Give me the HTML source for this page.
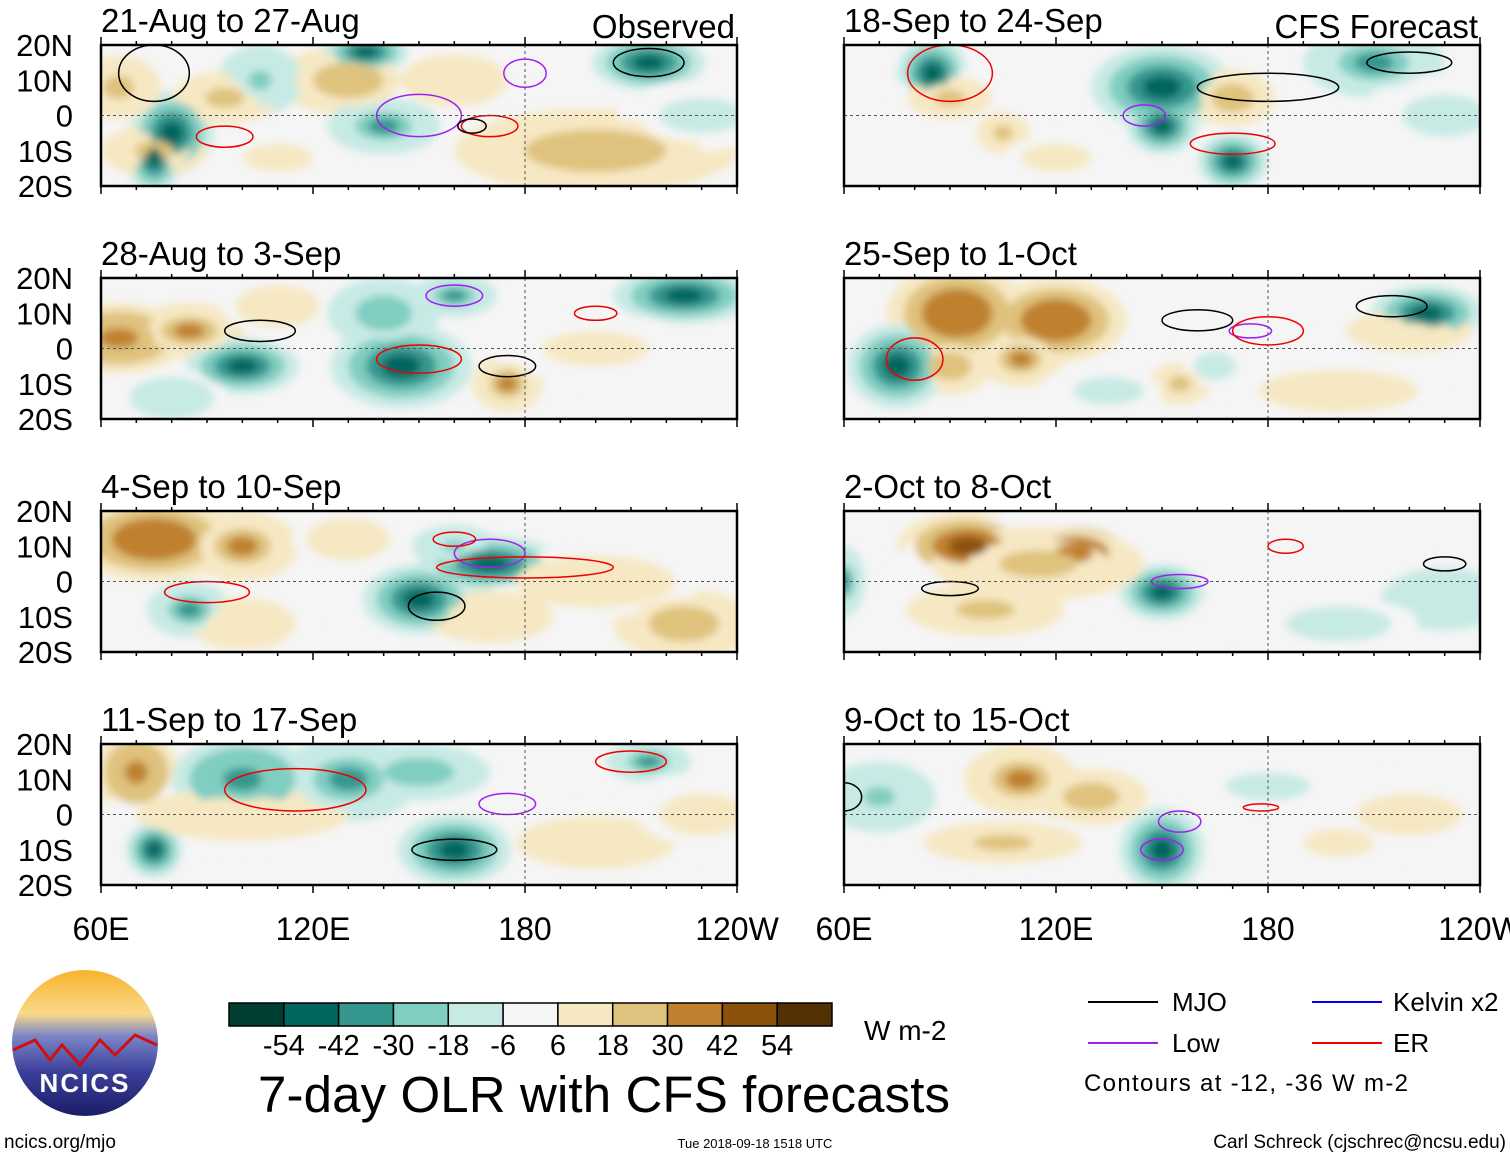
<!DOCTYPE html>
<html><head><meta charset="utf-8">
<style>
body{margin:0;background:#fff;width:1510px;height:1158px;overflow:hidden;font-family:"Liberation Sans",sans-serif}
svg text{font-family:"Liberation Sans",sans-serif}
</style></head>
<body>
<svg id="chart" width="1510" height="1158" viewBox="0 0 1510 1158" xmlns="http://www.w3.org/2000/svg">
<defs>
<filter id="blur" x="-50%" y="-50%" width="200%" height="200%"><feGaussianBlur stdDeviation="4"/></filter>
<linearGradient id="sky" x1="0" y1="0" x2="0" y2="1">
<stop offset="0" stop-color="#f7b32b"/><stop offset="0.3" stop-color="#f9d98a"/><stop offset="0.45" stop-color="#7c86c8"/><stop offset="0.7" stop-color="#3b3f9a"/><stop offset="1" stop-color="#1a1d66"/></linearGradient>
</defs>
<g id="panels"></g>
<g id="colorbar"></g>
<text x="864" y="1040" font-size="28">W m-2</text>
<text x="258" y="1112" font-size="51" textLength="692">7-day OLR with CFS forecasts</text>
<g font-size="26">
<line x1="1088" y1="1002" x2="1158" y2="1002" stroke="#000" stroke-width="2"/><text x="1172" y="1011">MJO</text>
<line x1="1312" y1="1002" x2="1382" y2="1002" stroke="#0000ee" stroke-width="2"/><text x="1393" y="1011">Kelvin x2</text>
<line x1="1088" y1="1043" x2="1158" y2="1043" stroke="#a020f0" stroke-width="2"/><text x="1172" y="1052">Low</text>
<line x1="1312" y1="1043" x2="1382" y2="1043" stroke="#ee0000" stroke-width="2"/><text x="1393" y="1052">ER</text>
<text x="1084" y="1091" font-size="24" textLength="324">Contours at -12, -36 W m-2</text>
</g>
<g>
<circle cx="85" cy="1043" r="73" fill="url(#sky)"/>
<path d="M13,1050 L35,1040 L50,1060 L62,1045 L80,1065 L100,1040 L115,1055 L135,1035 L157,1045" fill="none" stroke="#d01010" stroke-width="3"/>
<text x="85" y="1092" font-size="26" font-weight="bold" fill="#fff" text-anchor="middle" letter-spacing="2">NCICS</text>
</g>
<text x="4" y="1148" font-size="19">ncics.org/mjo</text>
<text x="755" y="1148" font-size="13" text-anchor="middle">Tue 2018-09-18 1518 UTC</text>
<text x="1506" y="1148" font-size="19" text-anchor="end">Carl Schreck (cjschrec@ncsu.edu)</text>
</svg>
<script>
const NS="http://www.w3.org/2000/svg";
const titles=["21-Aug to 27-Aug","18-Sep to 24-Sep","28-Aug to 3-Sep","25-Sep to 1-Oct","4-Sep to 10-Sep","2-Oct to 8-Oct","11-Sep to 17-Sep","9-Oct to 15-Oct"];
const levels=[-54,-42,-30,-18,-6,6,18,30,42,54];
const colors=["#003d33","#01665e","#35978f","#80cdc1","#c7eae5","#f5f5f5","#f6e8c3","#dfc27d","#bf812d","#8c510a","#543005"];
const latTicks=["20N","10N","0","10S","20S"];
const lonTicks=["60E","120E","180","120W"];
// blobs: [panel, lon, lat, rxDeg, ryDeg, value]
const blobLon=[[65,95,130,75,200,160,80,75,135,215,140,105,230,110],[85,150,150,170,210,90,105,170,230,120],[65,85,175,110,100,145,140,225,160,200,80],[92,120,90,110,155,220,75,225,165,200,135],[75,100,225,170,100,150,170,85,160,200,130],[95,125,115,100,230,150,60,200],[70,100,200,100,130,160,215,75,150,230],[110,130,105,200,150,70,220,180]];
const blobLat=[[8,5,10,-10,-10,10,-5,-12,18,15,-3,10,0,-12],[12,8,-3,-13,15,5,-5,5,0,-12],[3,5,-10,12,-5,-5,10,15,15,0,-14],[10,8,-5,-3,-10,5,-5,10,-5,-12,-12],[12,10,-12,-10,-12,-5,5,-8,10,0,12],[10,8,5,-8,-5,-3,0,-12],[12,0,-8,10,10,-10,15,-10,12,0],[10,5,-8,-8,-10,5,0,8]];
const blobRx=[[8,10,10,10,20,10,6,4,6,8,8,6,12,10],[5,10,5,5,10,8,5,6,12,10],[10,8,5,8,8,10,8,10,6,15,8],[10,10,6,6,6,12,7,8,6,15,10],[12,8,10,12,10,8,10,6,6,15,8],[10,10,20,15,12,6,3,15],[6,20,15,10,10,8,6,4,10,12],[8,8,15,10,6,8,15,12]];
const blobRy=[[6,5,5,5,6,5,6,5,3,4,4,5,5,4],[5,6,4,4,5,4,4,4,6,4],[5,4,4,4,4,6,5,4,3,5,4],[7,6,4,4,4,4,6,4,4,4,4],[6,5,5,5,5,5,4,4,3,5,4],[5,5,7,5,6,4,5,5],[6,5,5,6,6,5,3,4,4,6],[5,4,4,4,6,5,6,4]];
const blobVal=[[20,20,25,20,25,15,-40,-50,-50,-50,-30,-20,-10,10],[-40,-50,-40,-40,-30,20,20,25,-10,10],[35,30,30,15,-40,-40,-25,-45,-30,10,-15],[40,40,25,30,20,15,-40,-40,-10,12,-10],[40,30,25,15,15,-40,-40,-30,-20,12,15],[45,40,20,20,-15,-40,-30,-10],[35,15,15,-35,-30,-40,-30,-40,-25,10],[30,25,20,10,-40,-20,10,-10]];
// contours: lon, lat, rx, ry, color
const conLon=[[170,180,75,95,150,215,165],[90,180,170,145,220],[105,150,175,160,200],[160,175,215,80,180],[155,170,90,180,160],[90,185,155,230],[160,115,210,175],[155,150,178,60]];
const conLat=[[-3,12,12,-6,0,15,-3],[12,8,-8,0,15],[5,-3,-5,15,10],[8,5,12,-3,5],[-7,8,-3,4,12],[-2,10,0,5],[-10,7,15,3],[-2,-10,2,5]];
const conRx=[[8,6,10,8,12,10,4],[12,20,12,6,12],[10,12,8,8,6],[10,6,10,8,10],[8,10,12,25,6],[8,5,8,6],[12,20,10,8],[6,6,5,5]];
const conRy=[[3,4,8,3,6,4,2],[8,4,3,3,3],[3,4,3,3,2],[3,2,3,6,4],[4,4,3,3,2],[2,2,2,2],[3,6,3,3],[3,3,1,4]];
const conCol=[["#ee0000","#a020f0","#000","#ee0000","#a020f0","#000","#000"],["#ee0000","#000","#ee0000","#a020f0","#000"],["#000","#ee0000","#000","#a020f0","#ee0000"],["#000","#a020f0","#000","#ee0000","#ee0000"],["#000","#a020f0","#ee0000","#ee0000","#ee0000"],["#000","#ee0000","#a020f0","#000"],["#000","#ee0000","#ee0000","#a020f0"],["#a020f0","#a020f0","#ee0000","#000"]];
const PW=636,PH=141;
function px(p){return p%2===0?101:844;}
function py(p){return 45+Math.floor(p/2)*233;}
function xs(p,lon){return px(p)+(lon-60)/180*PW;}
function ys(p,lat){return py(p)+(20-lat)/40*PH;}
function color(v){let i=0;while(i<levels.length&&v>levels[i])i++;return colors[i];}
function mk(tag,attrs,parent){const e=document.createElementNS(NS,tag);for(const k in attrs)e.setAttribute(k,attrs[k]);parent.appendChild(e);return e;}
const root=document.getElementById('panels');
const layers=[[2.0,0.3],[1.5,0.55],[1.0,0.8],[0.55,1.05]];
for(let p=0;p<8;p++){
  const g=mk('g',{},root);
  
  
  const cid='clip'+p;
  const cp=mk('clipPath',{id:cid},g);
  mk('rect',{x:px(p),y:py(p),width:PW,height:PH},cp);
  mk('rect',{x:px(p),y:py(p),width:PW,height:PH,fill:'#f5f5f5'},g);
  const fg=mk('g',{'clip-path':'url(#'+cid+')'},g);
  const bg=mk('g',{filter:'url(#blur)'},fg);
  layers.forEach(([s,f])=>{
    blobLon[p].forEach((lon,i)=>{
      const v=blobVal[p][i];
      const e=mk('ellipse',{cx:xs(p,lon),cy:ys(p,blobLat[p][i]),rx:blobRx[p][i]*PW/180*s,ry:blobRy[p][i]*PH/40*s,fill:color(v*f)},bg);
      
      
    });
  });
  conLon[p].forEach((lon,i)=>{
    const c=mk('ellipse',{cx:xs(p,lon),cy:ys(p,conLat[p][i]),rx:conRx[p][i]*PW/180,ry:conRy[p][i]*PH/40,fill:'none',stroke:conCol[p][i],'stroke-width':1.5},fg);
    
    
  });
  mk('line',{x1:px(p),x2:px(p)+PW,y1:ys(p,0),y2:ys(p,0),stroke:'#555','stroke-dasharray':'3,3','stroke-width':1},g);
  mk('line',{x1:xs(p,180),x2:xs(p,180),y1:py(p),y2:py(p)+PH,stroke:'#555','stroke-dasharray':'3,3','stroke-width':1},g);
  mk('rect',{x:px(p),y:py(p),width:PW,height:PH,fill:'none',stroke:'#000','stroke-width':2.5},g);
  for(let l=60;l<=240;l+=10){const x=xs(p,l);const len=(l%60===0)?8:4;
    mk('line',{x1:x,x2:x,y1:py(p),y2:py(p)-len,stroke:'#000','stroke-width':1.5},g);
    mk('line',{x1:x,x2:x,y1:py(p)+PH,y2:py(p)+PH+len,stroke:'#000','stroke-width':1.5},g);}
  const t=mk('text',{x:px(p),y:py(p)-13,'font-size':33},g);t.textContent=titles[p];
  
  
  if(p%2===0){latTicks.forEach((s,i)=>{const tt=mk('text',{x:73,y:ys(p,20-i*10)+11,'font-size':31,'text-anchor':'end'},g);tt.textContent=s;
    
    });}
  if(p>=6){lonTicks.forEach((s,i)=>{const tt=mk('text',{x:xs(p,60+i*60),y:940,'font-size':32,'text-anchor':'middle'},g);tt.textContent=s;
    
    });}
}
let a=mk('text',{x:735,y:38,'font-size':33,'text-anchor':'end'},root);a.textContent='Observed';

a=mk('text',{x:1478,y:38,'font-size':33,'text-anchor':'end'},root);a.textContent='CFS Forecast';

const cb=document.getElementById('colorbar');const bw=(832-229)/11;
colors.forEach((c,i)=>{const r=mk('rect',{x:229+i*bw,y:1003,width:bw,height:23,fill:c,stroke:'#000','stroke-width':1.5},cb);
  });
levels.forEach((v,i)=>{const tt=mk('text',{x:229+(i+1)*bw,y:1055,'font-size':29,'text-anchor':'middle'},cb);tt.textContent=v;
  });
</script>
</body></html>
